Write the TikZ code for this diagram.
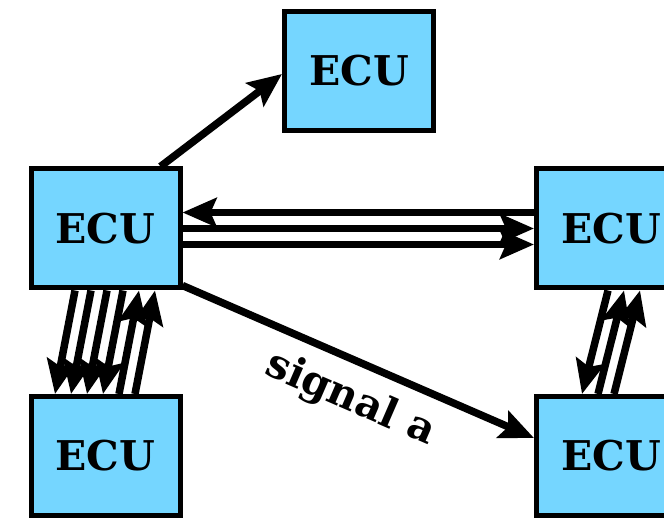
\documentclass[tikz,border=0pt]{standalone}
\usepackage{fontspec}
\setmainfont{DejaVu Serif}
\usetikzlibrary{positioning,arrows.meta}
\definecolor{ecublue}{RGB}{117,214,255}

\begin{document}
\begin{tikzpicture}[
  x=1pt, y=-1pt,
  ecu/.style={fill=ecublue, draw=black, line width=5pt, minimum width=149pt,
              minimum height=119pt, inner sep=0pt},
  sig/.style={-{Stealth[length=34pt, width=29pt, inset=6pt]}, black, line width=7.5pt},
  every node/.style={font=\fontsize{41}{48}\bfseries\selectfont}
]
  \useasboundingbox (0,0) rectangle (664,518);
  \clip (0,0) rectangle (664,518);

  % --- the five control units ---
  \node[ecu] (ecuT)  at (359,71)      {ECU};
  \node[ecu] (ecuL)  at (105.5,228.5) {ECU};
  \node[ecu] (ecuR)  at (611,228.5)   {ECU};
  \node[ecu] (ecuBL) at (105.5,456)   {ECU};
  \node[ecu] (ecuBR) at (611,456)     {ECU};

  % left unit up to the top unit
  \draw[sig] ([xshift=55pt]ecuL.north) -- ([yshift=-3pt]ecuT.west);

  % three signals between left and right unit
  \draw[sig] ([yshift=16pt]ecuR.west) -- ([yshift=16pt]ecuL.east);
  \draw[sig] (ecuL.east) -- (ecuR.west);
  \draw[sig] ([yshift=-16pt]ecuL.east) -- ([yshift=-16pt]ecuR.west);

  % the labelled signal a
  \draw[sig] ([yshift=5pt]ecuL.south east) -- ([yshift=18pt]ecuBR.west)
        node[pos=0.52, sloped, below, inner sep=14pt] (siga) {signal a};

  % bundle on the left: four down, two up
  \foreach \k in {0,...,3}
    \draw[sig] ([xshift={-30.5+16*\k}]ecuL.south) -- ([xshift={-50.5+16*\k}]ecuBL.north);
  \foreach \k in {4,5}
    \draw[sig] ([xshift={-50.5+16*\k}]ecuBL.north) -- ([xshift={-30.5+16*\k}]ecuL.south);

  % bundle on the right: one down, two up
  \draw[sig] ([xshift=-3pt]ecuR.south) -- ([xshift=-29pt]ecuBR.north);
  \foreach \k in {1,2}
    \draw[sig] ([xshift={-29+16*\k}]ecuBR.north) -- ([xshift={-3+16*\k}]ecuR.south);

\end{tikzpicture}
\end{document}
